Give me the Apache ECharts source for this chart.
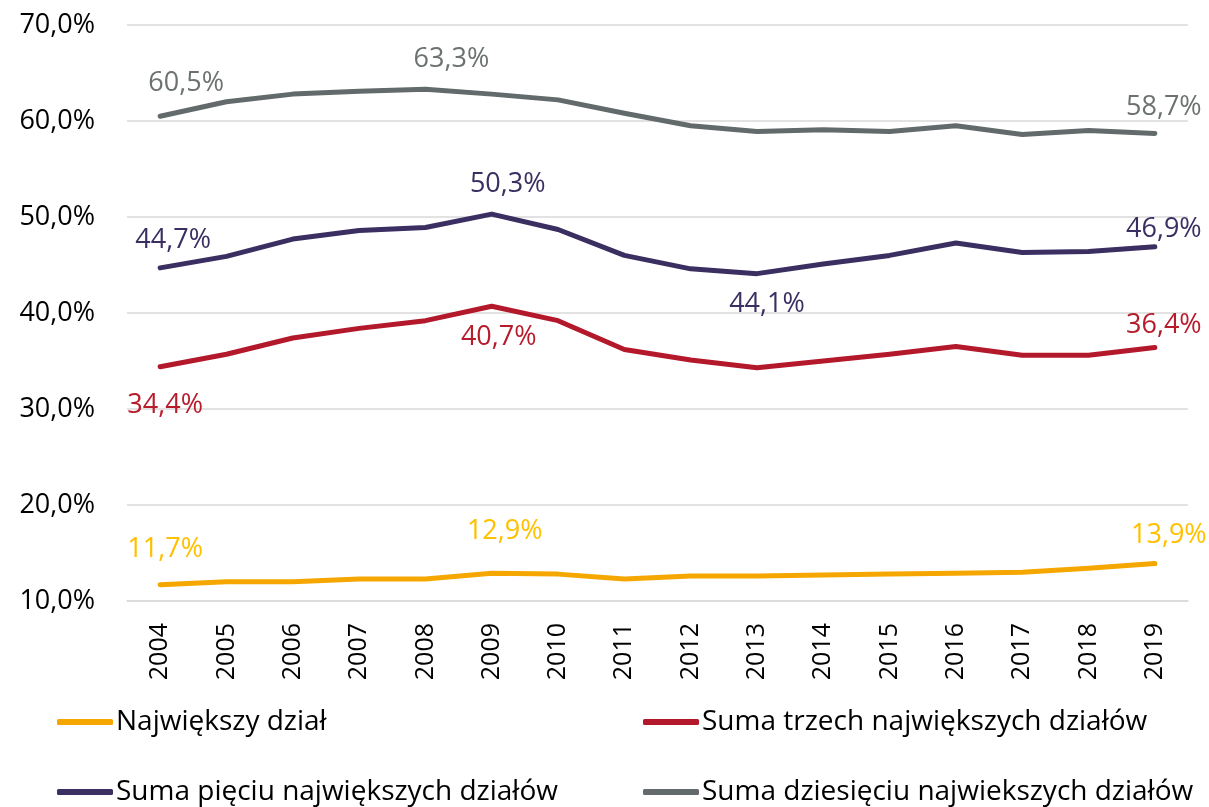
<!DOCTYPE html>
<html>
<head>
<meta charset="utf-8">
<script src="https://cdn.jsdelivr.net/npm/echarts@6/dist/echarts.min.js"></script>
<style>
  html, body { margin: 0; padding: 0; background: #fff; }
  #chart { width: 1209px; height: 807px; }
</style>
</head>
<body>
<div id="chart"></div>
<script>
// Years on the category axis
const years = ['2004','2005','2006','2007','2008','2009','2010','2011','2012','2013','2014','2015','2016','2017','2018','2019'];

// Concentration shares (%)
const largest = [11.7, 12.0, 12.0, 12.3, 12.3, 12.9, 12.8, 12.3, 12.6, 12.6, 12.7, 12.8, 12.9, 13.0, 13.4, 13.9];
const top3    = [34.4, 35.7, 37.4, 38.4, 39.2, 40.7, 39.2, 36.2, 35.1, 34.3, 35.0, 35.7, 36.5, 35.6, 35.6, 36.4];
const top5    = [44.7, 45.9, 47.7, 48.6, 48.9, 50.3, 48.7, 46.0, 44.6, 44.1, 45.1, 46.0, 47.3, 46.3, 46.4, 46.9];
const top10   = [60.5, 62.0, 62.8, 63.1, 63.3, 62.8, 62.2, 60.8, 59.5, 58.9, 59.1, 58.9, 59.5, 58.6, 59.0, 58.7];

// Series names
const names = [
  'Największy dział',
  'Suma trzech największych działów',
  'Suma pięciu największych działów',
  'Suma dziesięciu najwiekszych działów'
];

// Y axis ticks
const yMin = 10, yMax = 70, yStep = 10;

const FONT = '"Open Sans", "Noto Sans", sans-serif';
const fmt = v => v.toFixed(1).replace('.', ',') + '%';

// Which points carry a value label, and where the text sits relative to the point
const labelSpots = [
  { idx: [0, 5, 15], off: [[5, -35], [13, -42], [14, -28]] },
  { idx: [0, 5, 15], off: [[5, 39], [7, 31], [9, -22]] },
  { idx: [0, 5, 9, 15], off: [[13, -28], [16, -30], [10, 31], [9, -17]] },
  { idx: [0, 4, 15], off: [[26, -33], [26, -30], [9, -26]] }
];

const lineColors  = ['#F5A700', '#B3192B', '#3B2F62', '#636A6B'];
const labelColors = ['#FFC000', '#B71C2C', '#3B2F62', '#6C7271'];
const values = [largest, top3, top5, top10];

function buildData(vals, spot, color) {
  return vals.map((v, i) => {
    const k = spot.idx.indexOf(i);
    if (k < 0) return v;
    return {
      value: v,
      label: {
        show: true,
        position: 'inside',
        align: 'center',
        verticalAlign: 'middle',
        offset: spot.off[k],
        formatter: p => fmt(p.value),
        color: color,
        fontFamily: FONT,
        fontSize: 27
      }
    };
  });
}

const series = values.map((vals, s) => ({
  name: names[s],
  type: 'line',
  data: buildData(vals, labelSpots[s], labelColors[s]),
  symbol: 'circle',
  symbolSize: 1,
  showSymbol: true,
  showAllSymbol: true,
  itemStyle: { color: lineColors[s] },
  lineStyle: { color: lineColors[s], width: 5, cap: 'round', join: 'round' },
  label: { show: false },
  emphasis: { disabled: true },
  animation: false,
  z: 2 + s
}));

// Legend: two columns, two rows
const legendPos = [
  { left: 57, top: 707 },
  { left: 643, top: 707 },
  { left: 57, top: 777 },
  { left: 643, top: 777 }
];
const legends = names.map((n, i) => ({
  data: [n],
  left: legendPos[i].left,
  top: legendPos[i].top,
  padding: 0,
  icon: 'roundRect',
  itemWidth: 56,
  itemHeight: 6,
  itemGap: 0,
  selectedMode: false,
  textStyle: { fontFamily: FONT, fontSize: 28, color: '#000', lineHeight: 30, padding: [0, 0, 0, -2] }
}));

const chart = echarts.init(document.getElementById('chart'), null, { renderer: 'canvas' });
chart.setOption({
  animation: false,
  backgroundColor: '#fff',
  grid: { left: 127, right: 21, top: 25, bottom: 206, containLabel: false },
  xAxis: {
    type: 'category',
    data: years,
    boundaryGap: true,
    axisLine: { show: true, lineStyle: { color: '#d9d9d9', width: 1.5 } },
    axisTick: { show: false },
    axisLabel: {
      rotate: 90,
      margin: 22,
      color: '#000',
      fontFamily: FONT,
      fontSize: 25
    }
  },
  yAxis: {
    type: 'value',
    min: yMin,
    max: yMax,
    interval: yStep,
    axisLine: { show: false },
    axisTick: { show: false },
    splitLine: { lineStyle: { color: '#d9d9d9', width: 1.5 } },
    axisLabel: {
      margin: 32,
      color: '#000',
      fontFamily: FONT,
      fontSize: 27,
      formatter: v => fmt(v)
    }
  },
  legend: legends,
  series: series
});
</script>
</body>
</html>
